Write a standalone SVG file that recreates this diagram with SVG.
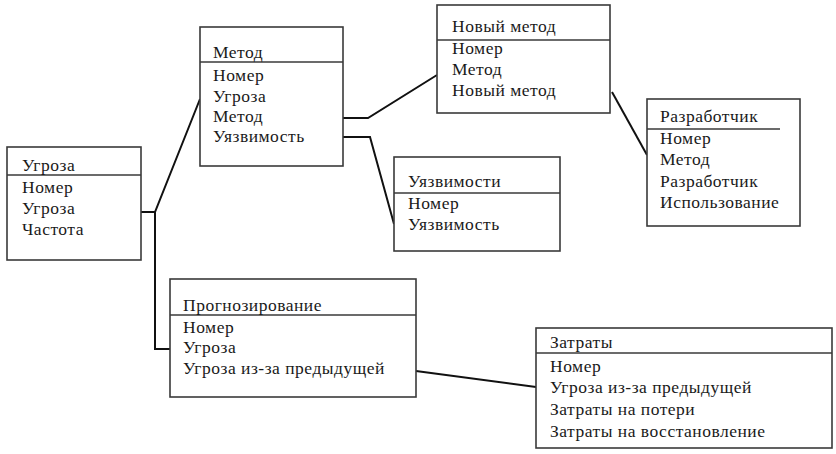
<svg xmlns="http://www.w3.org/2000/svg" width="836" height="454" viewBox="0 0 836 454">
<style>
.box{fill:#fff;stroke:#3a3a3a;stroke-width:1.6}
.sep{stroke:#3a3a3a;stroke-width:1.6}
.t{font-family:"Liberation Serif","Times New Roman",serif;font-size:17.5px;letter-spacing:0.5px;fill:#1a1a1a}
.c{fill:none;stroke:#111;stroke-width:2}
</style>
<rect width="836" height="454" fill="#fff"/>
<g id="connectors">
<polyline class="c" points="141,212 155,212 200,99"/>
<polyline class="c" points="155,212 155,349 170,349"/>
<polyline class="c" points="343,118 368,118 437,75"/>
<polyline class="c" points="343,137 370,137 394,224"/>
<line class="c" x1="612" y1="92" x2="647" y2="155"/>
<line class="c" x1="416" y1="371" x2="536" y2="387"/>
</g>
<g id="ugroza">
<rect class="box" x="7" y="147" width="134" height="113"/>
<line class="sep" x1="7" y1="175" x2="141" y2="175"/>
<text class="t" x="22" y="171">Угроза</text>
<text class="t" x="22" y="193">Номер</text>
<text class="t" x="22" y="214">Угроза</text>
<text class="t" x="22" y="235">Частота</text>
</g>
<g id="metod">
<rect class="box" x="200" y="27" width="143" height="139"/>
<line class="sep" x1="200" y1="62" x2="343" y2="62"/>
<text class="t" x="213" y="58">Метод</text>
<text class="t" x="213" y="81">Номер</text>
<text class="t" x="213" y="102">Угроза</text>
<text class="t" x="213" y="122">Метод</text>
<text class="t" x="213" y="142">Уязвимость</text>
</g>
<g id="noviy-metod">
<rect class="box" x="437" y="5" width="173" height="108"/>
<line class="sep" x1="437" y1="40" x2="610" y2="40"/>
<text class="t" x="452" y="32">Новый метод</text>
<text class="t" x="452" y="54">Номер</text>
<text class="t" x="452" y="75">Метод</text>
<text class="t" x="452" y="96">Новый метод</text>
</g>
<g id="razrabotchik">
<rect class="box" x="647" y="99" width="153" height="127"/>
<line class="sep" x1="647" y1="129" x2="780" y2="129"/>
<text class="t" x="660" y="122">Разработчик</text>
<text class="t" x="660" y="144">Номер</text>
<text class="t" x="660" y="165">Метод</text>
<text class="t" x="660" y="187">Разработчик</text>
<text class="t" x="660" y="208">Использование</text>
</g>
<g id="uyazvimosti">
<rect class="box" x="394" y="157" width="166" height="94"/>
<line class="sep" x1="394" y1="193" x2="560" y2="193"/>
<text class="t" x="408" y="187">Уязвимости</text>
<text class="t" x="408" y="209">Номер</text>
<text class="t" x="408" y="230">Уязвимость</text>
</g>
<g id="prognozirovanie">
<rect class="box" x="170" y="279" width="246" height="118"/>
<line class="sep" x1="170" y1="315" x2="416" y2="315"/>
<text class="t" x="183" y="311">Прогнозирование</text>
<text class="t" x="183" y="333">Номер</text>
<text class="t" x="183" y="353">Угроза</text>
<text class="t" x="183" y="374">Угроза из-за предыдущей</text>
</g>
<g id="zatraty">
<rect class="box" x="536" y="328" width="296" height="120"/>
<line class="sep" x1="536" y1="353" x2="832" y2="353"/>
<text class="t" x="550" y="348">Затраты</text>
<text class="t" x="550" y="372">Номер</text>
<text class="t" x="550" y="393">Угроза из-за предыдущей</text>
<text class="t" x="550" y="415">Затраты на потери</text>
<text class="t" x="550" y="437">Затраты на восстановление</text>
</g>
</svg>
